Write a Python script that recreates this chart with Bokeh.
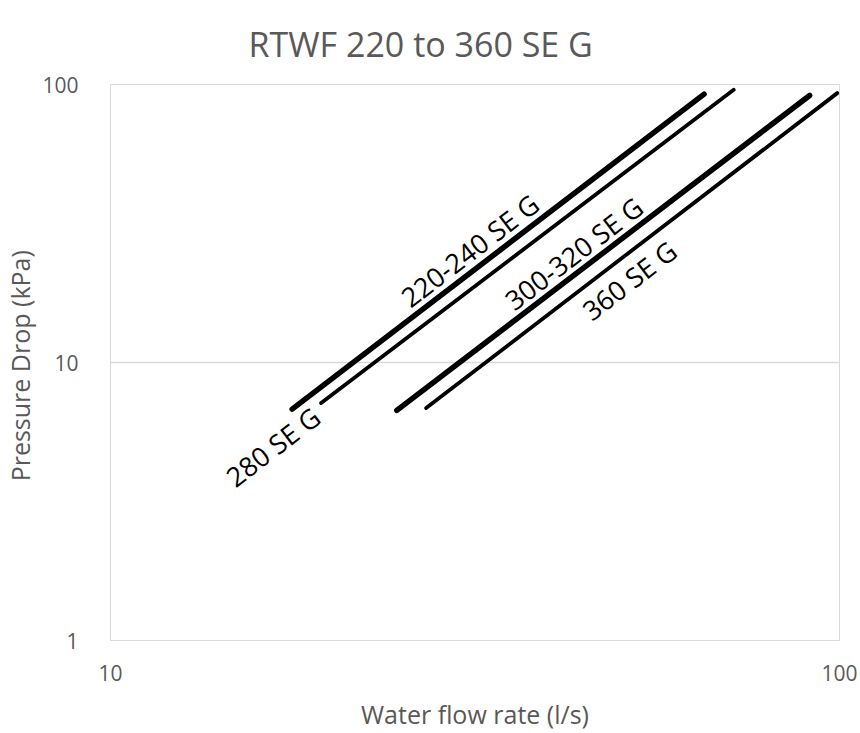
import math
from bokeh.plotting import figure
from bokeh.models import FixedTicker, ColumnDataSource, Title
from bokeh.core.properties import value
from bokeh.embed import file_html
from bokeh.resources import INLINE

# ---- data ----
series_names = ["220-240 SE G", "280 SE G", "300-320 SE G", "360 SE G"]
flow_220_240 = [17.75, 65.2]
dp_220_240 = [6.8, 92.3]
flow_280 = [19.45, 71.6]
dp_280 = [7.15, 95.7]
flow_300_320 = [24.7, 91.0]
dp_300_320 = [6.73, 91.3]
flow_360 = [27.1, 99.3]
dp_360 = [6.86, 93.1]

x_ticks = [10, 100]
y_ticks = [1, 10, 100]

# ---- styling ----
FONT = "Open Sans"
GREY = "#595959"
series = [
    (flow_220_240, dp_220_240, 5.5),
    (flow_280, dp_280, 3.8),
    (flow_300_320, dp_300_320, 5.5),
    (flow_360, dp_360, 3.8),
]
# label anchor (flow value along each line) and screen offsets
label_flow = [31.1, 16.7, 43.2, 51.5]
label_dy = [-23, 7, -22, 28]

p = figure(width=860, height=733, x_axis_type="log", y_axis_type="log",
           x_range=(10, 100), y_range=(1, 100),
           output_backend="svg", toolbar_location=None,
           min_border_left=110, min_border_right=21,
           min_border_top=83, min_border_bottom=92)

p.title = Title(text="RTWF 220 to 360 SE G", align="left", offset=138,
                text_font=FONT, text_font_size="34px",
                text_font_style="normal", text_color=GREY, standoff=36)

p.outline_line_color = "#d9d9d9"
p.outline_line_width = 1
p.background_fill_color = "white"
p.border_fill_color = "white"

p.xgrid.visible = False
p.ygrid.ticker = FixedTicker(ticks=y_ticks)
p.ygrid.grid_line_color = "#d9d9d9"
p.ygrid.grid_line_width = 1.3

for ax, ticks in ((p.xaxis[0], x_ticks), (p.yaxis[0], y_ticks)):
    ax.ticker = FixedTicker(ticks=ticks)
    ax.major_label_overrides = {t: str(t) for t in ticks}
    ax.axis_line_color = None
    ax.major_tick_line_color = None
    ax.minor_tick_line_color = None
    ax.major_label_text_font = FONT
    ax.major_label_text_font_size = "21px"
    ax.major_label_text_color = GREY
    ax.axis_label_text_font = FONT
    ax.axis_label_text_font_size = "25px"
    ax.axis_label_text_font_style = "normal"
    ax.axis_label_text_color = GREY

p.xaxis.axis_label = "Water flow rate (l/s)"
p.xaxis.major_label_standoff = 18
p.xaxis.axis_label_standoff = 13
p.xaxis.axis_label_text_line_height = 0.6
p.yaxis.axis_label = "Pressure  Drop (kPa)"
p.yaxis.major_label_standoff = 26
p.yaxis.axis_label_standoff = 2

for (fx, fy, w) in series:
    p.line(fx, fy, line_color="black", line_width=w, line_cap="round")

# labels placed along each line (log-log straight line through its points)
lx, ly = [], []
for (fx, fy, w), xf in zip(series, label_flow):
    k = math.log10(fy[1] / fy[0]) / math.log10(fx[1] / fx[0])
    lx.append(xf)
    ly.append(fy[0] * (xf / fx[0]) ** k)

src = ColumnDataSource(dict(x=lx, y=ly, t=series_names, dy=label_dy))
p.text(x="x", y="y", text="t", source=src, y_offset="dy",
       angle=37.5, angle_units="deg", text_align="center",
       text_baseline="middle", text_color="black",
       text_font=value(FONT), text_font_size="27px")

open("out.html", "w").write(file_html(p, INLINE))
